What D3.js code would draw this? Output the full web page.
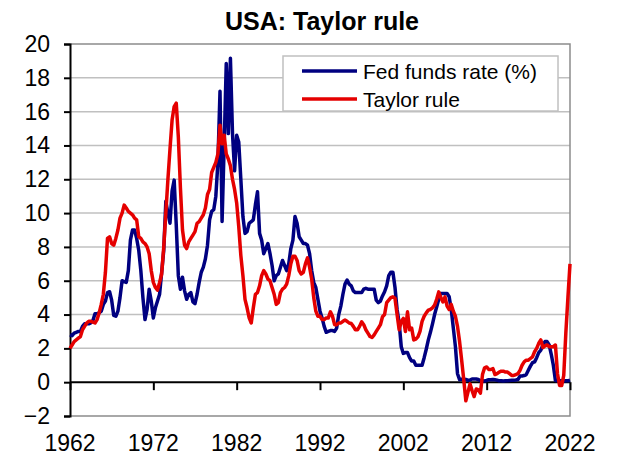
<!DOCTYPE html>
<html>
<head>
<meta charset="utf-8">
<script src="https://cdn.jsdelivr.net/npm/d3@7"></script>
<style>
  html, body { margin: 0; padding: 0; background: #fff; }
  svg { display: block; font-family: "Liberation Sans", Arial, sans-serif; }
</style>
</head>
<body>
<svg id="chart" width="619" height="456"></svg>
<script>
// ---- data (quarterly, 1962Q1 .. 2022Q1) ----
const startYear = 1962;
const periodsPerYear = 4;

const fedFunds = [
  2.8, 2.75, 2.9, 2.95,     // 1962
  3.0, 3.0, 3.3, 3.45,      // 1963
  3.45, 3.45, 3.5, 3.65,    // 1964
  4.05, 4.05, 4.1, 4.2,     // 1965
  4.6, 4.8, 5.3, 5.35,      // 1966
  4.85, 3.95, 3.9, 4.2,     // 1967
  5.0, 6.0, 5.95, 5.9,      // 1968
  6.6, 8.4, 9.0, 9.0,       // 1969
  8.5, 7.8, 6.6, 5.0,       // 1970
  3.7, 4.3, 5.5, 4.8,       // 1971
  3.8, 4.4, 4.8, 5.2,       // 1972
  6.5, 7.8, 10.7, 10.0,     // 1973
  9.4, 11.3, 11.95, 9.3,    // 1974
  6.3, 5.5, 6.2, 5.4,       // 1975
  4.9, 5.2, 5.3, 4.75,      // 1976
  4.65, 5.2, 5.9, 6.5,      // 1977
  6.8, 7.3, 8.1, 9.6,       // 1978
  10.1, 10.2, 11.0, 13.0,   // 1979
  17.2, 9.5, 14.0, 18.85,   // 1980
  14.7, 19.15, 14.7, 12.5,  // 1981
  14.6, 14.2, 12.0, 9.8,    // 1982
  8.8, 8.9, 9.4, 9.5,       // 1983
  9.6, 10.5, 11.26, 8.8,    // 1984
  8.4, 7.6, 7.9, 8.2,       // 1985
  7.6, 6.9, 6.0, 6.3,       // 1986
  6.4, 6.8, 7.2, 6.9,       // 1987
  6.6, 7.0, 7.9, 8.4,       // 1988
  9.8, 9.4, 8.6, 8.4,       // 1989
  8.2, 8.2, 8.1, 7.6,       // 1990
  6.6, 5.9, 5.6, 4.9,       // 1991
  4.2, 3.8, 3.3, 2.95,      // 1992
  3.0, 3.05, 3.05, 3.0,     // 1993
  3.2, 4.0, 4.5, 5.2,       // 1994
  5.8, 6.04, 5.8, 5.7,      // 1995
  5.4, 5.3, 5.3, 5.3,       // 1996
  5.3, 5.5, 5.55, 5.5,      // 1997
  5.5, 5.5, 5.5, 4.85,      // 1998
  4.7, 4.8, 5.1, 5.35,      // 1999
  5.7, 6.3, 6.5, 6.5,       // 2000
  5.6, 4.3, 3.5, 2.1,       // 2001
  1.7, 1.75, 1.75, 1.45,    // 2002
  1.25, 1.25, 1.0, 1.0,     // 2003
  1.0, 1.0, 1.45, 1.95,     // 2004
  2.5, 2.95, 3.45, 4.0,     // 2005
  4.45, 4.9, 5.25, 5.25,    // 2006
  5.25, 5.25, 5.05, 4.3,    // 2007
  3.2, 2.1, 0.5, 0.15,      // 2008
  0.18, 0.18, 0.16, 0.12,   // 2009
  0.13, 0.19, 0.19, 0.19,   // 2010
  0.16, 0.09, 0.08, 0.07,   // 2011
  0.1, 0.15, 0.14, 0.16,    // 2012
  0.14, 0.12, 0.08, 0.09,   // 2013
  0.07, 0.09, 0.09, 0.1,    // 2014
  0.11, 0.12, 0.13, 0.16,   // 2015
  0.36, 0.37, 0.39, 0.45,   // 2016
  0.7, 0.95, 1.15, 1.2,     // 2017
  1.45, 1.75, 1.9, 2.2,     // 2018
  2.4, 2.4, 2.2, 1.65,      // 2019
  1.0, 0.1, 0.09, 0.09,     // 2020
  0.08, 0.07, 0.09, 0.08,   // 2021
  0.12                      // 2022
];

const taylorRule = [
  2.0, 2.2, 2.4, 2.5,       // 1962
  2.6, 2.7, 3.1, 3.3,       // 1963
  3.5, 3.6, 3.6, 3.55,      // 1964
  3.5, 3.7, 4.1, 4.6,       // 1965
  5.2, 6.5, 8.5, 8.6,       // 1966
  8.2, 8.1, 8.5, 9.0,       // 1967
  9.7, 10.0, 10.47, 10.3,   // 1968
  10.1, 10.0, 9.9, 9.7,     // 1969
  9.6, 8.6, 8.5, 8.3,       // 1970
  8.2, 8.0, 7.6, 6.6,       // 1971
  5.9, 5.6, 5.45, 5.9,      // 1972
  6.4, 8.0, 10.0, 12.0,     // 1973
  13.8, 15.5, 16.3, 16.5,   // 1974
  14.5, 11.5, 9.0, 8.1,     // 1975
  7.9, 8.3, 8.5, 8.7,       // 1976
  8.9, 9.4, 9.5, 9.7,       // 1977
  9.9, 10.3, 11.1, 11.4,    // 1978
  12.4, 12.7, 13.0, 13.5,   // 1979
  15.2, 14.1, 14.6, 13.5,   // 1980
  13.2, 12.8, 12.0, 11.4,   // 1981
  10.6, 9.2, 7.5, 6.3,      // 1982
  4.9, 4.4, 3.8, 3.5,       // 1983
  4.4, 5.2, 5.3, 5.7,       // 1984
  6.3, 6.6, 6.4, 6.1,       // 1985
  6.0, 5.6, 5.2, 4.6,       // 1986
  4.7, 5.3, 5.5, 5.6,       // 1987
  5.8, 6.3, 7.0, 7.45,      // 1988
  7.45, 7.2, 6.6, 6.4,      // 1989
  6.5, 7.0, 7.35, 6.8,      // 1990
  6.1, 5.0, 4.2, 3.9,       // 1991
  3.9, 3.7, 3.7, 3.8,       // 1992
  3.8, 4.16, 3.9, 3.4,      // 1993
  3.4, 3.5, 3.5, 3.6,       // 1994
  3.67, 3.6, 3.5, 3.47,     // 1995
  3.3, 3.1, 3.1, 3.3,       // 1996
  3.57, 3.4, 3.1, 2.9,      // 1997
  2.7, 2.64, 2.8, 3.0,      // 1998
  3.2, 3.4, 3.87, 4.0,      // 1999
  4.7, 4.85, 5.0, 5.05,     // 2000
  4.95, 4.0, 3.1, 3.6,      // 2001
  3.77, 3.0, 4.16, 3.1,     // 2002
  3.2, 2.5, 2.55, 2.68,     // 2003
  3.0, 3.6, 3.9, 4.1,       // 2004
  4.26, 4.3, 4.4, 4.56,     // 2005
  4.9, 5.34, 5.0, 4.75,     // 2006
  5.05, 4.5, 4.3, 4.6,      // 2007
  4.2, 3.9, 3.3, 2.4,       // 2008
  1.3, 0.15, -1.1, -0.6,    // 2009
  -0.1, -0.5, -0.85, -0.4,  // 2010
  -0.45, -0.65, 0.45, 0.85, // 2011
  0.9, 0.75, 0.75, 0.8,     // 2012
  0.45, 0.5, 0.6, 0.65,     // 2013
  0.65, 0.6, 0.6, 0.5,      // 2014
  0.4, 0.4, 0.45, 0.5,      // 2015
  0.7, 1.0, 1.2, 1.3,       // 2016
  1.3, 1.4, 1.5, 1.8,       // 2017
  2.0, 2.3, 2.5, 2.05,      // 2018
  2.15, 2.2, 2.1, 2.1,      // 2019
  2.1, 2.2, 0.5, -0.2,      // 2020
  -0.2, 0.4, 2.9, 5.0,      // 2021
  7.0                       // 2022
];

const xTickYears = [1962, 1972, 1982, 1992, 2002, 2012, 2022];
const yTickValues = [-2, 0, 2, 4, 6, 8, 10, 12, 14, 16, 18, 20];
const seriesNames = ["Fed funds rate (%)", "Taylor rule"];
const chartTitle = "USA: Taylor rule";

// ---- layout ----
const svg = d3.select("#chart");
const plotL = 70, plotR = 570, plotT = 44, plotB = 416;
const colors = ["#000080", "#e50000"];

const x = d3.scaleLinear().domain([1962, 2022]).range([plotL, plotR]);
const y = d3.scaleLinear().domain([-2, 20]).range([plotB, plotT]);

const dateOf = i => startYear + i / periodsPerYear;

// gridlines
svg.append("g").selectAll("line")
  .data(yTickValues.filter(v => v !== 0 && v !== -2 && v !== 20))
  .join("line")
  .attr("x1", plotL).attr("x2", plotR)
  .attr("y1", d => y(d)).attr("y2", d => y(d))
  .attr("stroke", "#c0c0c0").attr("stroke-width", 1.5);

// frame (top, right, bottom)
svg.append("path")
  .attr("d", `M${plotL},${plotT}H${plotR}V${plotB}H${plotL}`)
  .attr("fill", "none").attr("stroke", "#8c8c8c").attr("stroke-width", 1.5);

// y axis
const yAxis = d3.axisLeft(y).tickValues(yTickValues).tickSize(6).tickPadding(14).tickFormat(d3.format("d"));
const gy = svg.append("g").attr("transform", `translate(${plotL},0)`).call(yAxis);
gy.select(".domain").attr("stroke", "#000").attr("stroke-width", 2);
gy.selectAll(".tick line").attr("stroke", "#000").attr("stroke-width", 2);
gy.selectAll(".tick text").attr("font-size", 23).attr("fill", "#000")
  .attr("font-family", "Liberation Sans, Arial, sans-serif");

// x axis at zero
const xAxis = d3.axisBottom(x).tickValues(xTickYears).tickSize(8).tickFormat(d3.format("d"));
const gx = svg.append("g").attr("transform", `translate(0,${y(0)})`).call(xAxis);
gx.select(".domain").attr("stroke", "#000").attr("stroke-width", 2).attr("d", `M${plotL},0H${plotR}`);
gx.selectAll(".tick line").attr("stroke", "#000").attr("stroke-width", 2);
gx.selectAll(".tick text").remove();

// x labels at bottom
svg.append("g").selectAll("text")
  .data(xTickYears).join("text")
  .attr("x", d => x(d)).attr("y", 451)
  .attr("text-anchor", "middle")
  .attr("font-size", 23).attr("fill", "#000")
  .text(d => d);

// lines
const line = d3.line().x((d, i) => x(dateOf(i))).y(d => y(d));
[fedFunds, taylorRule].forEach((s, k) => {
  svg.append("path").datum(s)
    .attr("d", line)
    .attr("fill", "none")
    .attr("stroke", colors[k])
    .attr("stroke-width", 3.5)
    .attr("stroke-linejoin", "round");
});

// legend
const lg = svg.append("g");
lg.append("rect").attr("x", 283).attr("y", 56).attr("width", 275).attr("height", 55)
  .attr("fill", "#fff").attr("stroke", "#c0c0c0").attr("stroke-width", 1.5);
seriesNames.forEach((name, k) => {
  const ly = 71 + k * 28;
  lg.append("line").attr("x1", 302).attr("x2", 357).attr("y1", ly).attr("y2", ly)
    .attr("stroke", colors[k]).attr("stroke-width", 3.5);
  lg.append("text").attr("x", 363).attr("y", ly + 7.5)
    .attr("font-size", 21).attr("fill", "#000").text(name);
});

// title
svg.append("text").attr("x", 322).attr("y", 29.5)
  .attr("text-anchor", "middle").attr("font-size", 25).attr("font-weight", "bold")
  .attr("fill", "#000").text(chartTitle);
</script>
</body>
</html>
